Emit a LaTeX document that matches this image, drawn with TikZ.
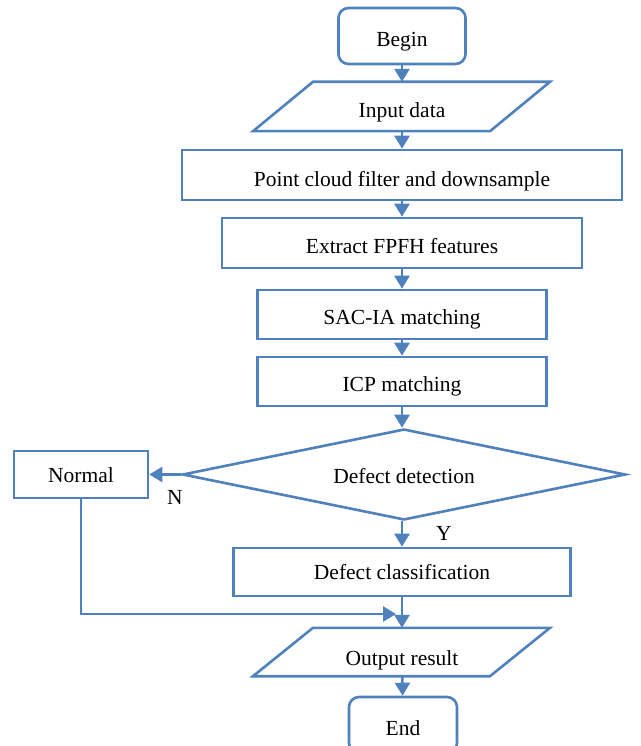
\documentclass[tikz,border=0pt]{standalone}
\usepackage{fontspec}
\setmainfont{Liberation Serif}
\usetikzlibrary{shapes.geometric,% diamond for the decision
arrows.meta}%                     triangle arrow tips
\definecolor{flowblue}{RGB}{79,129,189}
\tikzset{every node/.style={font=\fontsize{21.5}{24}\selectfont}}
\tikzset{
  procbox/.style={draw=flowblue, line width=2.6pt, rectangle, minimum height=49pt, inner sep=0pt,
    text height=20pt, text depth=0pt},
  termbox/.style={procbox, rounded corners=10pt, minimum height=56pt},
  iobox/.style={minimum height=49pt, inner sep=0pt, text height=22pt, text depth=0pt},
  ioshape/.style={draw=flowblue, line width=2.6pt, line join=miter},
  decide/.style={draw=flowblue, line width=2.6pt, diamond, aspect=4.87, minimum width=443pt,
    minimum height=91pt, inner sep=0pt, text height=17pt, text depth=0pt},
  flow/.style={draw=flowblue, line width=2.6pt, -{Triangle[width=15pt,length=13pt]}}
}

\begin{document}
\begin{tikzpicture}[x=1pt, y=-1pt]
  \useasboundingbox (0,0) rectangle (640,746);
  \clip (0,0) rectangle (640,746);
  % boxes of the main chain
  \node[termbox, minimum width=127pt, text height=22pt] (begin) at (402,36) {Begin};
  \node[iobox] (input) at (402,106.5) {Input data};
  \draw[ioshape] ([xshift=-149pt]input.south) -- ([xshift=-89pt]input.north)
        -- ([xshift=148pt]input.north) -- ([xshift=88pt]input.south) -- cycle;
  \node[procbox, minimum width=440pt, minimum height=50pt, text height=22pt] (filter) at (402,175) {Point cloud filter and downsample};
  \node[procbox, minimum width=360pt, minimum height=50pt] (fpfh) at (402,243) {Extract FPFH features};
  \node[procbox, minimum width=289pt] (sacia) at (402,314.5) {SAC-IA matching};
  \node[procbox, minimum width=289pt] (icp) at (402,381.5) {ICP matching};
  \node[decide] (detect) at (404,474.5) {Defect detection};
  \node[procbox, minimum width=134pt, minimum height=47pt, text height=15pt] (normal) at (81,474.5) {Normal};
  \node[procbox, minimum width=337pt, minimum height=48pt, text height=14pt] (classify) at (402,572) {Defect classification};
  \node[iobox, minimum height=48pt, text height=26pt] (output) at (402,652) {Output result};
  \draw[ioshape] ([xshift=-149pt]output.south) -- ([xshift=-89pt]output.north)
        -- ([xshift=148pt]output.north) -- ([xshift=88pt]output.south) -- cycle;
  \node[termbox, minimum width=108pt] (finish) at (403,725) {End};
  % branch labels
  \node (nlabel) at (175,497) {N};
  \node (ylabel) at (444,533) {Y};
  % connectors
  \draw[flow] (begin) -- (input);
  \draw[flow] (input) -- (filter);
  \draw[flow] (filter) -- (fpfh);
  \draw[flow] (fpfh) -- (sacia);
  \draw[flow] (sacia) -- (icp);
  \draw[flow] (icp.south) -- (icp.south |- detect.north);
  \draw[flow] (detect.west) -- (normal.east);
  \draw[flow] (classify.north |- detect.south) -- (classify.north);
  \draw[flow] (classify) -- (output);
  \coordinate (merge) at (396,614);
  \draw[flow] (normal) |- (merge);
  \draw[flow] (output) -- (finish);
\end{tikzpicture}
\end{document}
